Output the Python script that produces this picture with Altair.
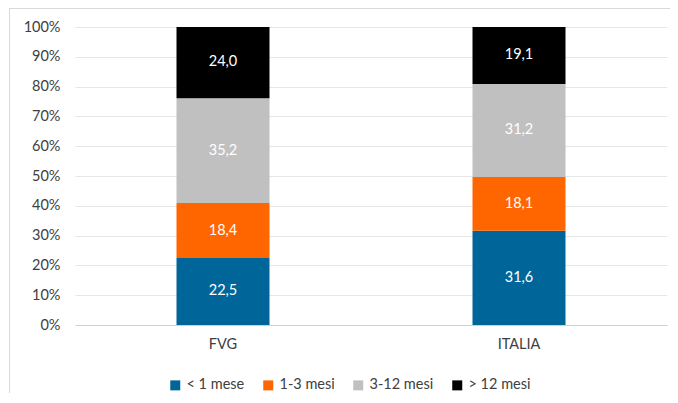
import altair as alt
import pandas as pd

regions = ["FVG", "ITALIA"]
durations = ["< 1 mese", "1-3 mesi", "3-12 mesi", "> 12 mesi"]
colors = ["#006699", "#FF6600", "#C0C0C0", "#000000"]
fvg_values = [22.5, 18.4, 35.2, 24.0]
italia_values = [31.6, 18.1, 31.2, 19.1]
y_ticks = [0, 10, 20, 30, 40, 50, 60, 70, 80, 90, 100]

rows = []
for reg, vals in zip(regions, [fvg_values, italia_values]):
    for i, (d, v) in enumerate(zip(durations, vals)):
        rows.append({"region": reg, "duration": d, "idx": i, "value": v})
df = pd.DataFrame(rows)

FONT = "Lato"

base = alt.Chart(df).transform_stack(
    stack="value", as_=["v0", "v1"], groupby=["region"],
    sort=[alt.SortField("idx", order="ascending")]
).transform_calculate(
    mid="(datum.v0 + datum.v1) / 2",
    label="replace(format(datum.value, '.1f'), '.', ',')"
)

yscale = alt.Scale(domain=[0, 100], clamp=True, nice=False)
xscale = alt.Scale(paddingInner=0, paddingOuter=0)

xaxis = alt.Axis(labelAngle=0, ticks=False, labelPadding=12,
                 labelFont=FONT, labelFontSize=14.5, labelColor="#404040",
                 domainColor="#D0D0D0", domainWidth=1)
yaxis = alt.Axis(values=y_ticks, labelExpr="datum.value + '%'",
                 ticks=False, domain=False, labelPadding=15,
                 labelFont=FONT, labelFontSize=14.5, labelColor="#404040",
                 grid=True, gridColor="#E6E6E6", gridWidth=1)

bars = base.mark_bar(size=93).encode(
    x=alt.X("region:N", sort=regions, title=None, scale=xscale, axis=xaxis),
    y=alt.Y("v0:Q", title=None, scale=yscale, axis=yaxis),
    y2="v1:Q",
    color=alt.Color("duration:N", sort=durations,
                    scale=alt.Scale(domain=durations, range=colors),
                    legend=alt.Legend(title=None, orient="none", direction="horizontal",
                                      legendX=93, legendY=351,
                                      symbolType="square", symbolSize=100,
                                      symbolStrokeWidth=0, columnPadding=16,
                                      labelOffset=4, labelFont=FONT,
                                      labelFontSize=14.5, labelColor="#404040")),
)

texts = base.mark_text(color="white", font=FONT, fontSize=14.5).encode(
    x=alt.X("region:N", sort=regions, title=None, scale=xscale, axis=xaxis),
    y=alt.Y("mid:Q", title=None, scale=yscale, axis=yaxis),
    text="label:N",
)

frame_v = alt.Chart(df).mark_rule(color="#D9D9D9", strokeWidth=1).encode(
    x=alt.value(-65.5), y=alt.value(-19), y2=alt.value(370)
)
frame_h = alt.Chart(df).mark_rule(color="#D9D9D9", strokeWidth=1).encode(
    x=alt.value(-66), x2=alt.value(600), y=alt.value(-18.5)
)

chart = alt.layer(bars, texts, frame_v, frame_h).properties(
    width=592, height=298,
    autosize=alt.AutoSizeParams(type="none"),
    padding={"left": 67, "top": 19, "right": 3, "bottom": 68},
).configure_view(stroke=None)

chart.save("out.html", embed_options={"renderer": "svg", "actions": False})
